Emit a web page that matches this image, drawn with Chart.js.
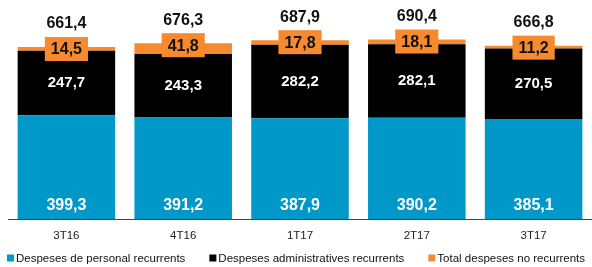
<!DOCTYPE html>
<html>
<head>
<meta charset="utf-8">
<script src="https://cdn.jsdelivr.net/npm/chart.js@4"></script>
<style>
  html, body { margin: 0; padding: 0; background: #fff; }
  #wrap { width: 592px; height: 267px; position: relative; }
</style>
</head>
<body>
<div id="wrap"><canvas id="c"></canvas></div>
<script>
// ── Data ────────────────────────────────────────────────────────────
const quarters   = ['3T16', '4T16', '1T17', '2T17', '3T17'];
const personal   = [399.3, 391.2, 387.9, 390.2, 385.1];
const admin      = [247.7, 243.3, 282.2, 282.1, 270.5];
const noRecur    = [14.5, 41.8, 17.8, 18.1, 11.2];
const totals     = [661.4, 676.3, 687.9, 690.4, 666.8];
const seriesNames = ['Despeses de personal recurrents', 'Despeses administratives recurrents', 'Total despeses no recurrents'];

const C_BLUE = '#0097c9', C_BLACK = '#000000', C_ORANGE = '#f78a2e';
const fmt = v => v.toFixed(1).replace('.', ',');
const FONT = 'Liberation Sans, Arial, sans-serif';

// Plugin: value labels, orange pills and totals
const labelPlugin = {
  id: 'valueLabels',
  afterDatasetsDraw(chart) {
    const { ctx } = chart;
    const mBlue = chart.getDatasetMeta(0).data;
    const mBlack = chart.getDatasetMeta(1).data;
    const mOr = chart.getDatasetMeta(2).data;
    ctx.save();
    ctx.textAlign = 'center';
    ctx.textBaseline = 'middle';
    quarters.forEach((q, i) => {
      // blue — near the bottom
      const b = mBlue[i];
      ctx.fillStyle = '#fff';
      ctx.font = 'bold 16px ' + FONT;
      ctx.fillText(fmt(personal[i]), b.x, b.base - 14);
      // black — centred
      const k = mBlack[i];
      ctx.font = 'bold 15px ' + FONT;
      ctx.fillText(fmt(admin[i]), k.x, (k.y + k.base) / 2);
      // orange pill at the bar top
      const o = mOr[i];
      ctx.font = 'bold 16px ' + FONT;
      const label = fmt(noRecur[i]);
      const tw = ctx.measureText(label).width;
      const pw = tw + 12, ph = 24;
      const cy = o.y + 2;
      ctx.fillStyle = C_ORANGE;
      ctx.fillRect(o.x - pw / 2, cy - ph / 2, pw, ph);
      ctx.fillStyle = '#111';
      ctx.fillText(label, o.x, cy + 1);
      // total above
      ctx.fillStyle = '#111';
      ctx.fillText(fmt(totals[i]), o.x, o.y - 23);
    });
    ctx.restore();
  },
};

// Plugin: legend row with small square markers, drawn at the bottom
const legendPlugin = {
  id: 'squareLegend',
  afterDraw(chart) {
    const { ctx } = chart;
    const colors = chart.data.datasets.map(d => d.backgroundColor);
    ctx.save();
    ctx.font = '11.5px ' + FONT;
    ctx.textBaseline = 'middle';
    const box = 7, gapTxt = 2, gapItem = 24;
    const widths = seriesNames.map(n => box + gapTxt + ctx.measureText(n).width);
    const total = widths.reduce((a, b) => a + b, 0) + gapItem * (widths.length - 1);
    let x = (chart.width - total) / 2;
    const y = chart.height - 9;
    seriesNames.forEach((n, i) => {
      ctx.fillStyle = colors[i];
      ctx.fillRect(x, y - box / 2, box, box);
      ctx.fillStyle = '#111';
      ctx.fillText(n, x + box + gapTxt, y + 1);
      x += widths[i] + gapItem;
    });
    ctx.restore();
  },
};

new Chart(document.getElementById('c'), {
  type: 'bar',
  data: {
    labels: quarters,
    datasets: [
      { label: seriesNames[0], data: personal, backgroundColor: C_BLUE },
      { label: seriesNames[1], data: admin,    backgroundColor: C_BLACK },
      { label: seriesNames[2], data: noRecur,  backgroundColor: C_ORANGE },
    ],
  },
  options: {
    responsive: true,
    maintainAspectRatio: false,
    animation: false,
    datasets: { bar: { categoryPercentage: 1, barPercentage: 0.835 } },
    layout: { padding: { top: 11, right: 0, bottom: 22, left: 8 } },
    plugins: {
      tooltip: { enabled: false },
      legend: { display: false },
    },
    scales: {
      x: {
        stacked: true,
        grid: { display: false },
        border: { display: true, color: '#444', width: 1 },
        ticks: { color: '#222', font: { family: FONT, size: 11.5 }, padding: 2 },
      },
      y: {
        stacked: true, display: false, min: 0, max: 800,
      },
    },
  },
  plugins: [labelPlugin, legendPlugin],
});
</script>
</body>
</html>
